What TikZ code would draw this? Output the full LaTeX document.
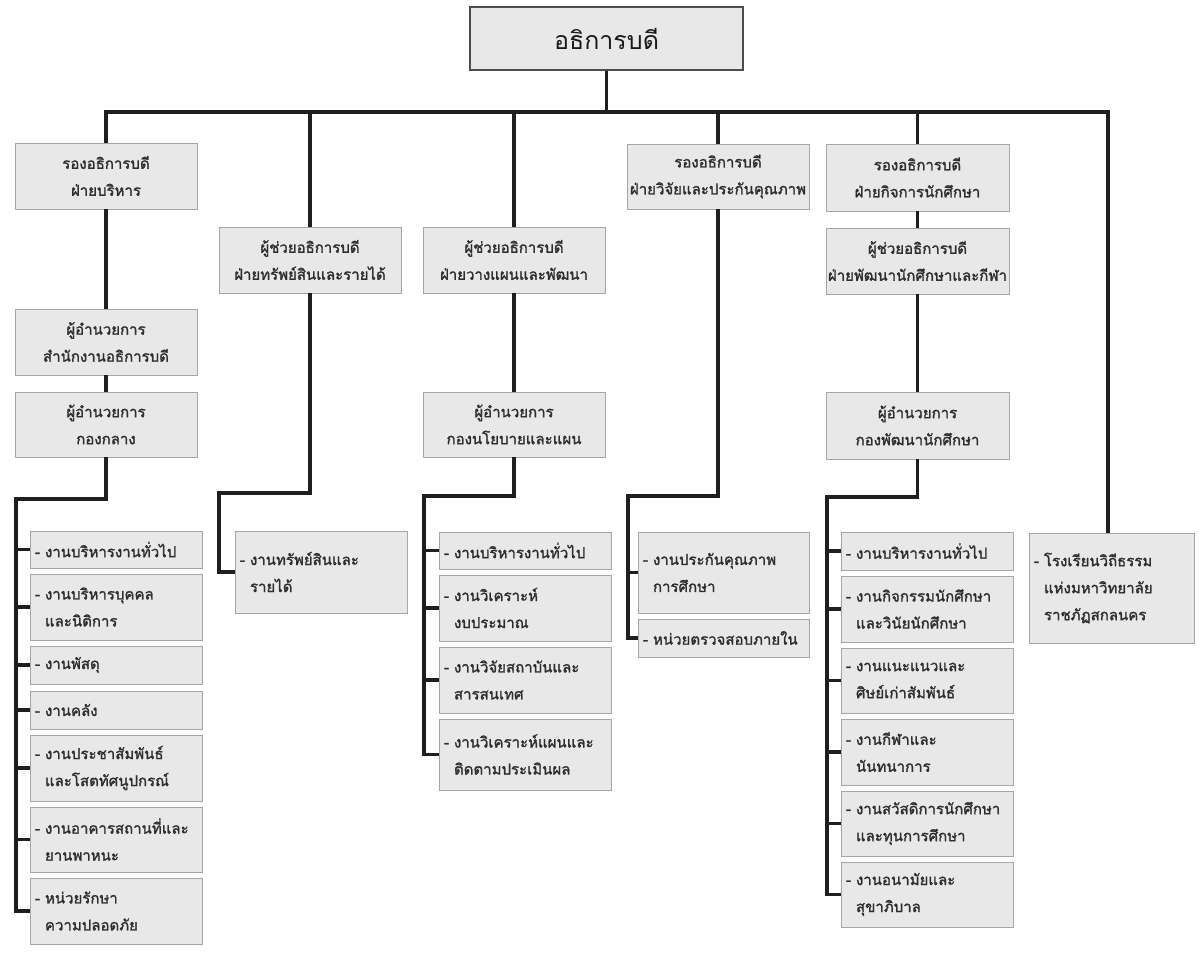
\documentclass[tikz,border=0pt]{standalone}
\usepackage{fontspec}
\setmainfont[Script=Thai, AutoFakeBold=1.6, BoldFeatures={FakeBold=0.8}]{Loma}
\begin{document}
\begin{tikzpicture}[x=1pt,y=-1pt,
  conn/.style={line width=3.2pt, draw=black!88},
  box/.style={draw=black!35, fill=black!9, line width=0.9pt, inner sep=0pt,
    font=\fontsize{15}{27}\selectfont\bfseries, text=black!82},
  topbox/.style={box, draw=black!70, line width=1.3pt, minimum width=273pt, minimum height=63pt,
    font=\fontsize{25}{30}\selectfont, text=black!90},
  headbox/.style={box, align=center, minimum width=182pt, minimum height=66pt},
  itembox/.style={box, align=left, inner xsep=5pt, text width=162pt, minimum height=#1},
]
\useasboundingbox (0,0) rectangle (1199,955);
\fill[white] (0,0) rectangle (1199,955);

% top
\node[topbox] (top) at (606.5,38.5) {อธิการบดี};

% column 1
\node[headbox] (a1) at (106,176) {รองอธิการบดี\\ฝ่ายบริหาร};
\node[headbox] (a2) at (106,342) {ผู้อำนวยการ\\สำนักงานอธิการบดี};
\node[headbox, minimum height=65pt] (a3) at (106,424.5) {ผู้อำนวยการ\\กองกลาง};
\node[itembox=37pt] (a1i1) at (116,549.5) {- งานบริหารงานทั่วไป};
\node[itembox=66pt] (a1i2) at (116,607) {- งานบริหารบุคคล\\\phantom{- }และนิติการ};
\node[itembox=38pt] (a1i3) at (116,665) {- งานพัสดุ};
\node[itembox=38pt] (a1i4) at (116,710) {- งานคลัง};
\node[itembox=66pt] (a1i5) at (116,768) {- งานประชาสัมพันธ์\\\phantom{- }และโสตทัศนูปกรณ์};
\node[itembox=65pt] (a1i6) at (116,839.5) {- งานอาคารสถานที่และ\\\phantom{- }ยานพาหนะ};
\node[itembox=66pt] (a1i7) at (116,911) {- หน่วยรักษา\\\phantom{- }ความปลอดภัย};
\coordinate (t1) at (16,499);

% column 2
\node[headbox] (b1) at (310,260) {ผู้ช่วยอธิการบดี\\ฝ่ายทรัพย์สินและรายได้};
\node[itembox=82pt] (b2) at (321,572) {- งานทรัพย์สินและ\\\phantom{- }รายได้};
\coordinate (t2) at (219,493);

% column 3
\node[headbox] (c1) at (514,260) {ผู้ช่วยอธิการบดี\\ฝ่ายวางแผนและพัฒนา};
\node[headbox, minimum height=65pt] (c2) at (514,424.5) {ผู้อำนวยการ\\กองนโยบายและแผน};
\node[itembox=37pt] (c3) at (525,550.5) {- งานบริหารงานทั่วไป};
\node[itembox=66pt] (c4) at (525,608) {- งานวิเคราะห์\\\phantom{- }งบประมาณ};
\node[itembox=66pt] (c5) at (525,680) {- งานวิจัยสถาบันและ\\\phantom{- }สารสนเทศ};
\node[itembox=71pt] (c6) at (525,754.5) {- งานวิเคราะห์แผนและ\\\phantom{- }ติดตามประเมินผล};
\coordinate (t3) at (424,496);

% column 4
\node[headbox, minimum height=65pt] (d1) at (718,176.5) {รองอธิการบดี\\ฝ่ายวิจัยและประกันคุณภาพ};
\node[itembox=81pt, text width=161pt] (d2) at (723.5,572.5) {- งานประกันคุณภาพ\\\phantom{- }การศึกษา};
\node[itembox=38pt, text width=161pt] (d3) at (723.5,638) {- หน่วยตรวจสอบภายใน};
\coordinate (t4) at (628,496);

% column 5
\node[headbox, minimum width=183pt, minimum height=67pt] (e1) at (917.5,177.5) {รองอธิการบดี\\ฝ่ายกิจการนักศึกษา};
\node[headbox, minimum width=183pt] (e2) at (917.5,261) {ผู้ช่วยอธิการบดี\\ฝ่ายพัฒนานักศึกษาและกีฬา};
\node[headbox, minimum width=183pt, minimum height=67pt] (e3) at (917.5,425.5) {ผู้อำนวยการ\\กองพัฒนานักศึกษา};
\node[itembox=38pt] (e4) at (927,551) {- งานบริหารงานทั่วไป};
\node[itembox=66pt] (e5) at (927,609) {- งานกิจกรรมนักศึกษา\\\phantom{- }และวินัยนักศึกษา};
\node[itembox=65pt] (e6) at (927,680.5) {- งานแนะแนวและ\\\phantom{- }ศิษย์เก่าสัมพันธ์};
\node[itembox=66pt] (e7) at (927,752) {- งานกีฬาและ\\\phantom{- }นันทนาการ};
\node[itembox=65pt] (e8) at (927,823.5) {- งานสวัสดิการนักศึกษา\\\phantom{- }และทุนการศึกษา};
\node[itembox=65pt] (e9) at (927,894.5) {- งานอนามัยและ\\\phantom{- }สุขาภิบาล};
\coordinate (t5) at (827,497);

% column 6
\node[itembox=110pt, text width=155pt] (f1) at (1111.5,588) {- โรงเรียนวิถีธรรม\\\phantom{- }แห่งมหาวิทยาลัย\\\phantom{- }ราชภัฏสกลนคร};

% connectors
\coordinate (bus) at (0,112);
\draw[conn] (top.south) -- (top.south |- bus);
\draw[conn] (a1.north) -- (a1.north |- bus) -- ([xshift=-3.5pt]f1.north |- bus) -- ([xshift=-3.5pt]f1.north);
\draw[conn] (b1.north) -- (b1.north |- bus);
\draw[conn] (c1.north) -- (c1.north |- bus);
\draw[conn] (d1.north) -- (d1.north |- bus);
\draw[conn] (e1.north) -- (e1.north |- bus);

\draw[conn] (a1.south) -- (a2.north);
\draw[conn] (a2.south) -- (a3.north);
\draw[conn] (a3.south) |- (t1) -- (t1 |- a1i7.west) -- (a1i7.west);
\foreach \n in {a1i1,a1i2,a1i3,a1i4,a1i5,a1i6} \draw[conn] (t1 |- \n.west) -- (\n.west);

\draw[conn] (b1.south) |- (t2) -- (t2 |- b2.west) -- (b2.west);

\draw[conn] (c1.south) -- (c2.north);
\draw[conn] (c2.south) |- (t3) -- (t3 |- c6.west) -- (c6.west);
\foreach \n in {c3,c4,c5} \draw[conn] (t3 |- \n.west) -- (\n.west);

\draw[conn] (d1.south) |- (t4) -- (t4 |- d3.west) -- (d3.west);
\draw[conn] (t4 |- d2.west) -- (d2.west);

\draw[conn] (e1.south) -- (e2.north);
\draw[conn] (e2.south) -- (e3.north);
\draw[conn] (e3.south) |- (t5) -- (t5 |- e9.west) -- (e9.west);
\foreach \n in {e4,e5,e6,e7,e8} \draw[conn] (t5 |- \n.west) -- (\n.west);
\end{tikzpicture}
\end{document}
